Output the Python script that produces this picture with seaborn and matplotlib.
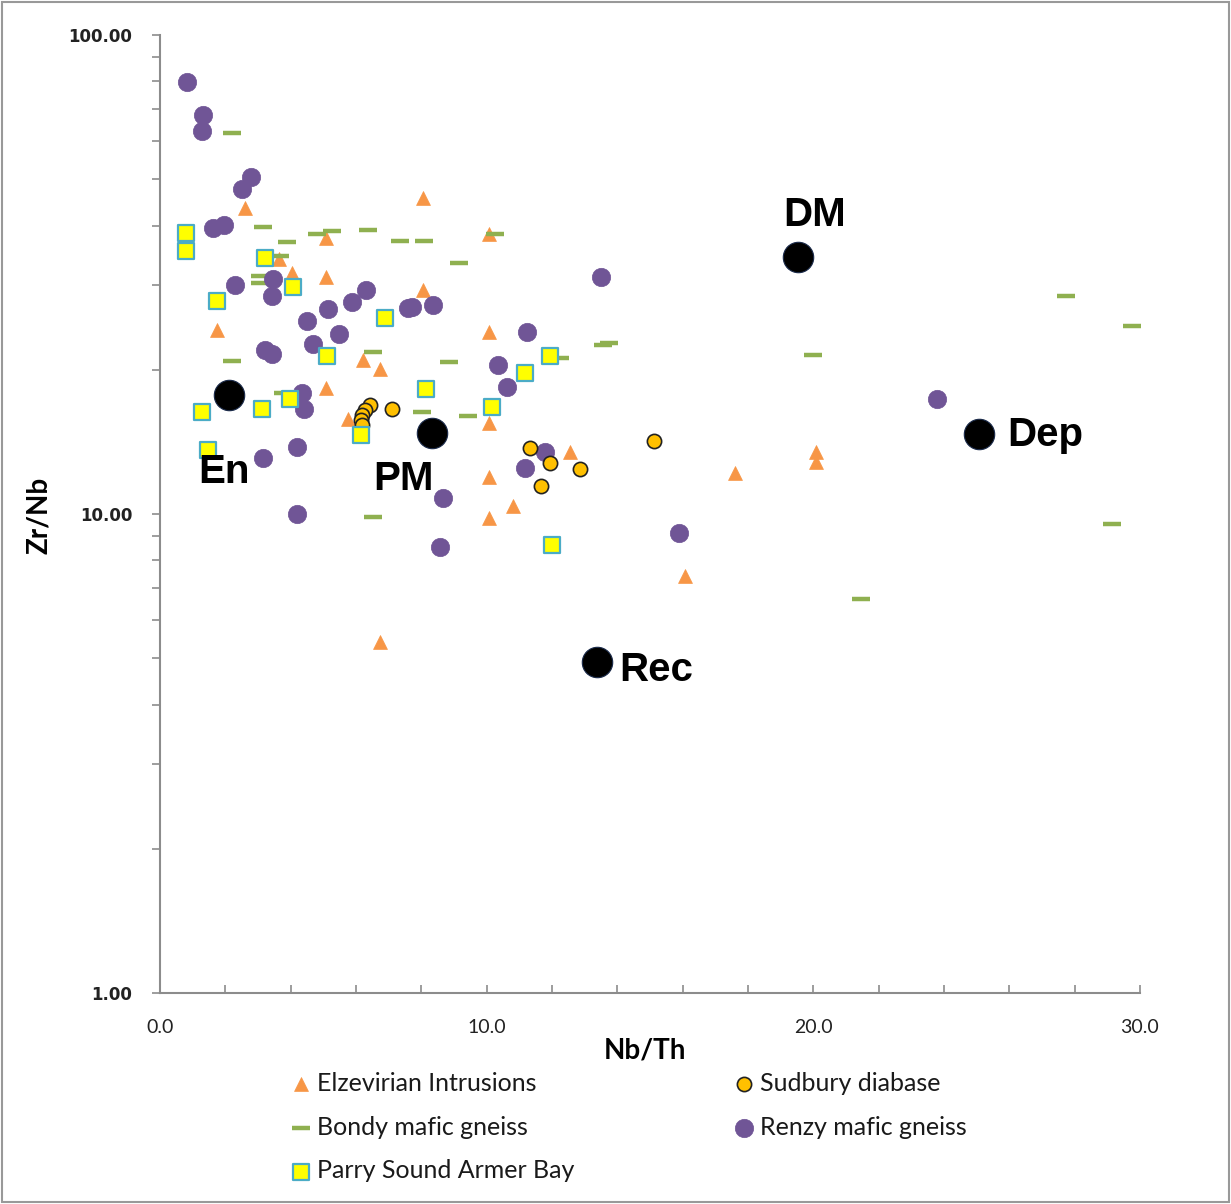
import matplotlib
matplotlib.use("Agg")
import matplotlib.pyplot as plt
import matplotlib.patches as mpatches
from matplotlib.ticker import FixedLocator, MultipleLocator, FormatStrFormatter, LogLocator, NullFormatter
import seaborn as sns
import pandas as pd

# ---------------- data ----------------
elz_x = [2.60, 8.06, 5.08, 3.64, 4.05, 5.08, 8.06, 10.07, 10.07, 1.73, 6.20, 6.75,
         5.08, 5.76, 10.07, 12.55, 10.07, 10.81, 10.07, 16.07, 17.60, 20.08, 20.08, 6.73]
elz_y = [43.6, 45.6, 37.6, 34.0, 31.8, 31.3, 29.4, 38.4, 24.0, 24.2, 21.0, 20.1,
         18.3, 15.8, 15.5, 13.5, 11.97, 10.4, 9.79, 7.43, 12.16, 13.49, 12.86, 5.40]

bondy_x = [2.19, 3.16, 3.88, 4.80, 5.26, 6.36, 7.35, 8.09, 9.15, 3.67, 3.06, 3.06,
           10.25, 13.55, 13.75, 12.24, 8.86, 9.44, 8.01, 2.19, 6.53, 3.77, 6.53,
           27.75, 29.74, 20.0, 29.15, 21.47]
bondy_y = [62.5, 39.8, 36.9, 38.5, 38.9, 39.2, 37.2, 37.2, 33.4, 34.5, 31.4, 30.4,
           38.5, 22.5, 22.7, 21.2, 20.8, 16.0, 16.3, 20.9, 21.8, 17.9, 9.84,
           28.5, 24.7, 21.5, 9.52, 6.66]

renzy_x = [0.84, 1.31, 1.28, 2.78, 2.52, 1.63, 1.97, 2.30, 3.47, 3.44, 6.30, 5.87,
           5.15, 7.60, 7.70, 8.35, 4.51, 5.49, 4.67, 3.21, 3.42, 4.34, 4.41, 4.18,
           3.16, 4.18, 8.67, 8.57, 13.50, 11.22, 10.36, 10.63, 11.78, 11.17, 15.90, 23.79]
renzy_y = [79.9, 68.1, 63.0, 50.6, 47.6, 39.5, 40.1, 30.1, 31.0, 28.5, 29.4, 27.7,
           26.8, 26.9, 27.0, 27.3, 25.3, 23.7, 22.6, 22.0, 21.6, 17.9, 16.6, 13.8,
           13.1, 10.0, 10.8, 8.52, 31.3, 24.0, 20.5, 18.4, 13.5, 12.5, 9.11, 17.4]

sud_x = [6.43, 6.27, 6.18, 6.15, 6.18, 7.10, 11.33, 11.94, 12.86, 11.66, 15.13]
sud_y = [16.89, 16.49, 16.09, 15.71, 15.34, 16.56, 13.76, 12.80, 12.40, 11.46, 14.2]

parry_x = [0.79, 0.79, 3.21, 4.08, 1.75, 6.89, 5.10, 3.98, 3.11, 1.28, 1.48, 6.15,
           8.13, 11.94, 11.17, 10.15, 11.99]
parry_y = [38.6, 35.4, 34.2, 29.8, 27.9, 25.7, 21.4, 17.4, 16.6, 16.3, 13.6, 14.6,
           18.2, 21.4, 19.7, 16.7, 8.62]

ref_names = ["En", "PM", "DM", "Dep", "Rec"]
ref_x = [2.11, 8.33, 19.53, 25.07, 13.38]
ref_y = [17.7, 14.77, 34.4, 14.69, 4.91]
# label anchor positions (data coords)
ref_lx = [1.96, 7.44, 20.05, 27.09, 15.18]
ref_ly = [12.24, 11.83, 42.0, 14.62, 4.73]

x_ticks = [0, 10, 20, 30]
y_ticks = [1, 10, 100]

# ---------------- style ----------------
sns.set_style("white")
plt.rcParams["font.family"] = ["Lato", "DejaVu Sans"]

fig = plt.figure(figsize=(12.31, 12.04), dpi=100)
ax = fig.add_axes([160/1231, 1-993/1204, 980/1231, 958/1204])

sns.scatterplot(x=elz_x, y=elz_y, ax=ax, marker="^", s=100, color="#F79646",
                edgecolor="#F79646", linewidth=0.5, label="Elzevirian Intrusions", zorder=3)
sns.scatterplot(x=bondy_x, y=bondy_y, ax=ax, marker="_", s=160, color="#8FB050",
                linewidth=3.2, label="Bondy mafic gneiss", zorder=3)
sns.scatterplot(x=renzy_x, y=renzy_y, ax=ax, marker="o", s=175, color="#705596",
                edgecolor="#705596", linewidth=0.5, label="Renzy mafic gneiss", zorder=4)
sns.scatterplot(x=sud_x, y=sud_y, ax=ax, marker="o", s=105, color="#FFC000",
                edgecolor="#222222", linewidth=1.2, label="Sudbury diabase", zorder=5)
sns.scatterplot(x=parry_x, y=parry_y, ax=ax, marker="s", s=135, color="#FFFF00",
                edgecolor="#4BACC6", linewidth=1.6, label="Parry Sound Armer Bay", zorder=6)
sns.scatterplot(x=ref_x, y=ref_y, ax=ax, marker="o", s=480, color="black",
                edgecolor="#1a2a4a", linewidth=0.8, legend=False, zorder=7)

for n, lx, ly in zip(ref_names, ref_lx, ref_ly):
    ax.text(lx, ly, n, ha="center", va="center", fontsize=29, fontweight="bold",
            family="Liberation Sans", color="black", zorder=8)

ax.set_yscale("log")
ax.set_xlim(0, 30)
ax.set_ylim(1, 100)

for s in ["top", "right"]:
    ax.spines[s].set_visible(False)
for s in ["left", "bottom"]:
    ax.spines[s].set_color("#8c8c8c")
    ax.spines[s].set_linewidth(1.5)

ax.xaxis.set_major_locator(FixedLocator(x_ticks))
ax.xaxis.set_minor_locator(MultipleLocator(2))
ax.xaxis.set_major_formatter(FormatStrFormatter("%.1f"))
ax.yaxis.set_major_locator(FixedLocator(y_ticks))
ax.yaxis.set_minor_locator(LogLocator(base=10, subs=range(2, 10)))
ax.yaxis.set_minor_formatter(NullFormatter())
ax.yaxis.set_major_formatter(FormatStrFormatter("%.2f"))

ax.tick_params(axis="x", which="both", direction="in", length=6, width=1.2,
               color="#8c8c8c", bottom=True, pad=19, labelsize=14, labelcolor="#222222")
ax.tick_params(axis="y", which="both", direction="out", length=6, width=1.2,
               color="#8c8c8c", left=True, pad=14, labelsize=12, labelcolor="#222222")
for lab in ax.get_yticklabels():
    lab.set_family("DejaVu Sans")
    lab.set_fontweight("bold")

ax.set_xlabel("Nb/Th", fontsize=20, fontweight="bold", color="black")
ax.set_ylabel("Zr/Nb", fontsize=20, fontweight="bold", color="black")
ax.xaxis.set_label_coords(0.495, -0.046)
ax.yaxis.set_label_coords(-0.110, 0.499)

handles, labels = ax.get_legend_handles_labels()
order = ["Elzevirian Intrusions", "Bondy mafic gneiss", "Parry Sound Armer Bay",
         "Sudbury diabase", "Renzy mafic gneiss"]
hmap = dict(zip(labels, handles))
leg = ax.legend([hmap[o] for o in order], order, ncol=2, frameon=False,
                loc="upper left", bbox_to_anchor=(288/1231, 1-1072/1204),
                bbox_transform=fig.transFigure, fontsize=18, handlelength=1.0,
                handletextpad=0.15, columnspacing=6.3, labelspacing=0.83,
                borderpad=0, borderaxespad=0)
for t in leg.get_texts():
    t.set_color("#1a1a1a")

fig.patches.append(mpatches.Rectangle((0.002, 0.002), 0.996, 0.996, transform=fig.transFigure,
                                      fill=False, edgecolor="#999999", linewidth=1.5))

fig.savefig("out.png", dpi=100)
